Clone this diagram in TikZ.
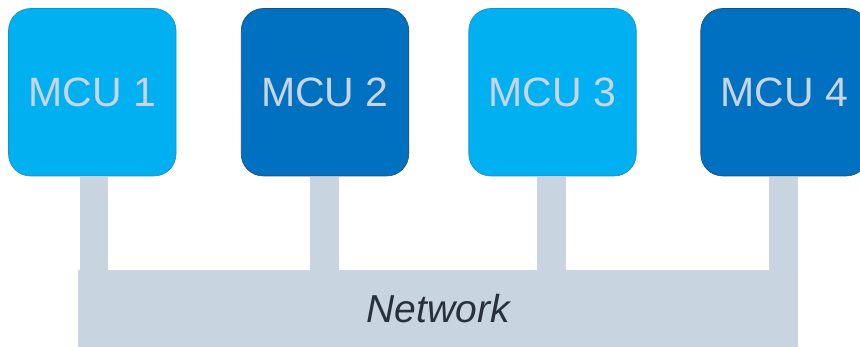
\documentclass[tikz,border=0pt]{standalone}
\usepackage{fontspec}
\setmainfont{Liberation Sans}
\definecolor{lightblue}{HTML}{00B0F0}
\definecolor{darkblue}{HTML}{0070C0}
\definecolor{lightblueedge}{HTML}{1A8FC8}
\definecolor{darkblueedge}{HTML}{1F4E79}
\definecolor{paletext}{HTML}{C9D5E2}
\definecolor{busgray}{HTML}{C8D4E0}
\definecolor{nettext}{HTML}{28303B}
\begin{document}
\begin{tikzpicture}[x=1pt,y=-1pt,
  mcu/.style={rectangle, rounded corners=22pt, minimum width=167.5pt, minimum height=167.5pt,
    inner sep=0pt, text=paletext, font=\fontsize{41}{41}\selectfont, line width=0.6pt},
  mculight/.style={mcu, fill=lightblue, draw=lightblueedge},
  mcudark/.style={mcu, fill=darkblue, draw=darkblueedge},
  bus/.style={rectangle, fill=busgray, inner sep=0pt, minimum width=720pt, minimum height=77pt,
    text=nettext, font=\fontsize{39}{39}\selectfont\itshape},
  stem/.style={draw=busgray, line width=28.5pt}]
\useasboundingbox (0,0) rectangle (860,347);
\clip (0,0) rectangle (860,347);
\node[bus] (net) at (438,308.5) {Network};
\node[mculight] (m1) at (92.25,92.25) {MCU 1};
\node[mcudark]  (m2) at (325,92.25) {MCU 2};
\node[mculight] (m3) at (552.5,92.25) {MCU 3};
\node[mcudark]  (m4) at (784.5,92.25) {MCU 4};
\draw[stem] (m1.south) ++(1.5,0.5) coordinate (s1) -- (s1 |- net.north);
\draw[stem] (m2.south) ++(-0.5,0.5) coordinate (s2) -- (s2 |- net.north);
\draw[stem] (m3.south) ++(-1,0.5) coordinate (s3) -- (s3 |- net.north);
\draw[stem] (m4.south) ++(-1,0.5) coordinate (s4) -- (s4 |- net.north);
\end{tikzpicture}
\end{document}
